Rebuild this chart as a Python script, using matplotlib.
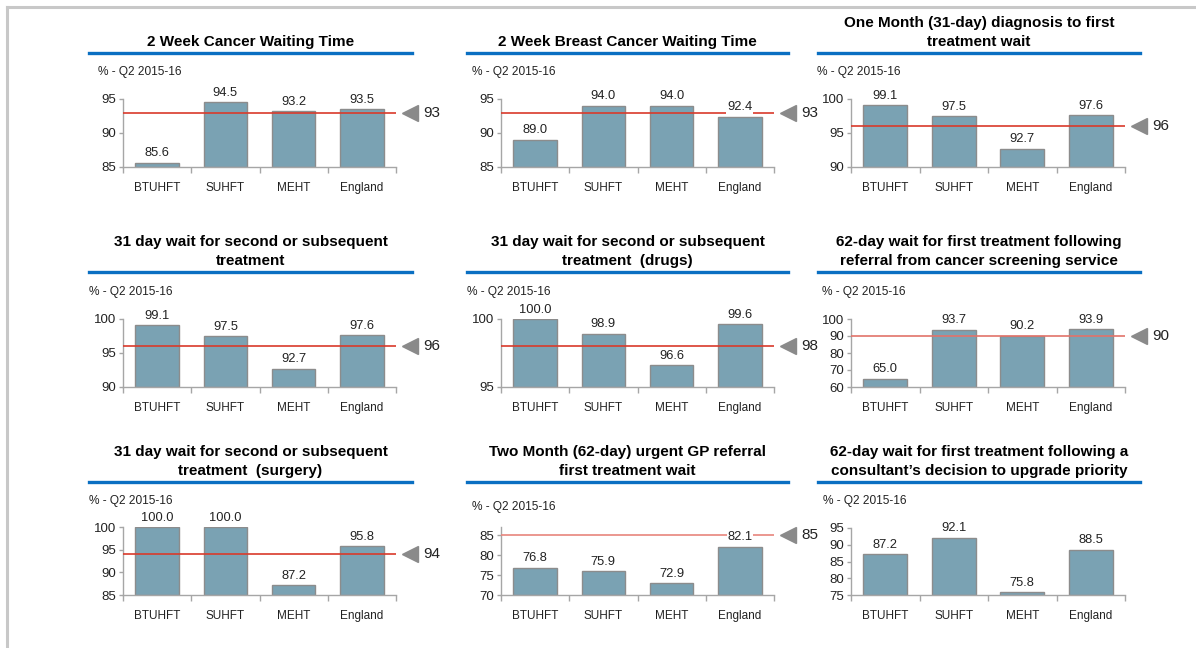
import numpy as np
import matplotlib
matplotlib.use('Agg')
import matplotlib.pyplot as plt
from matplotlib.lines import Line2D
from matplotlib.transforms import offset_copy

plt.rcParams['font.family'] = ['Liberation Sans', 'DejaVu Sans']

W, H = 1196, 648

categories = ['BTUHFT', 'SUHFT', 'MEHT', 'England']
subtitle = '% - Q2 2015-16'

titles = [
    '2 Week Cancer Waiting Time',
    '2 Week Breast Cancer Waiting Time',
    'One Month (31-day) diagnosis to first\ntreatment wait',
    '31 day wait for second or subsequent\ntreatment',
    '31 day wait for second or subsequent\ntreatment  (drugs)',
    '62-day wait for first treatment following\nreferral from cancer screening service',
    '31 day wait for second or subsequent\ntreatment  (surgery)',
    'Two Month (62-day) urgent GP referral\nfirst treatment wait',
    '62-day wait for first treatment following a\nconsultant\u2019s decision to upgrade priority',
]

cancer_2wk = [85.6, 94.5, 93.2, 93.5]
breast_2wk = [89.0, 94.0, 94.0, 92.4]
diag_31day = [99.1, 97.5, 92.7, 97.6]
subseq_31day = [99.1, 97.5, 92.7, 97.6]
drugs_31day = [100.0, 98.9, 96.6, 99.6]
screening_62day = [65.0, 93.7, 90.2, 93.9]
surgery_31day = [100.0, 100.0, 87.2, 95.8]
gp_62day = [76.8, 75.9, 72.9, 82.1]
upgrade_62day = [87.2, 92.1, 75.8, 88.5]

series = [cancer_2wk, breast_2wk, diag_31day, subseq_31day, drugs_31day,
          screening_62day, surgery_31day, gp_62day, upgrade_62day]
targets = [93, 93, 96, 96, 98, 90, 94, 85, None]
ylims = [(85, 95), (85, 95), (90, 100), (90, 100), (95, 100),
         (60, 100), (85, 100), (70, 87), (75, 95)]
ysteps = [5, 5, 5, 5, 5, 10, 5, 5, 5]

# pixel layout of the 3x3 grid
ax_left = [123, 501, 851]
ax_right = [396, 774, 1125]
ax_top = [[99, 99, 99], [319, 319, 319], [527, 527, 528]]
ax_bot = [167, 387, 595]
rule_x = [(89, 412), (467, 788), (818, 1140)]
rule_y = [53, 272, 482]
sub_x = [[98, 472, 817], [89, 467, 822], [89, 472, 823]]
sub_y = [[72, 72, 72], [292, 292, 292], [501, 507, 501]]
line_col = ['#d93a2b', '#d93a2b', '#d93a2b', '#d93a2b', '#d93a2b',
            '#e2736a', '#d93a2b', '#e8857d', '#d93a2b']

bar_col = '#7aa2b3'
edge_col = '#8c8c8c'
axis_col = '#a6a6a6'
text_col = '#222222'

fig = plt.figure(figsize=(W / 100, H / 100), dpi=100)
fig.patch.set_facecolor('white')

# light grey frame on top and left
fig.add_artist(Line2D([7 / W, 1], [1 - 7 / H, 1 - 7 / H], color='#c8c8c8', lw=2.2))
fig.add_artist(Line2D([7 / W, 7 / W], [1 - 7 / H, 0], color='#c8c8c8', lw=2.2))

x = np.arange(len(categories))

for i in range(9):
    r, c = divmod(i, 3)
    x0, x1 = ax_left[c], ax_right[c]
    y0, y1 = ax_top[r][c], ax_bot[r]
    ax = fig.add_axes([x0 / W, 1 - y1 / H, (x1 - x0) / W, (y1 - y0) / H])

    vals = series[i]
    lo, hi = ylims[i]
    ax.bar(x, [v - lo for v in vals], bottom=lo, width=0.64, color=bar_col,
           edgecolor=edge_col, linewidth=1.0, zorder=2)
    ax.set_xlim(-0.5, 3.5)
    ax.set_ylim(lo, hi)
    ax.set_yticks(np.arange(lo, hi + 0.1, ysteps[i]))
    ax.set_xticks(x)
    ax.set_xticklabels(categories)
    ax.set_xticks(np.arange(-0.5, 3.6, 1), minor=True)

    for s in ['top', 'right']:
        ax.spines[s].set_visible(False)
    for s in ['left', 'bottom']:
        ax.spines[s].set_color(axis_col)
        ax.spines[s].set_linewidth(1.0)
    ax.tick_params(axis='y', length=3, width=1, color=axis_col, pad=2,
                   labelsize=9.5, labelcolor=text_col)
    ax.tick_params(axis='x', which='major', length=0, pad=11,
                   labelsize=8.5, labelcolor=text_col)
    ax.tick_params(axis='x', which='minor', length=4, width=1, color=axis_col)

    t = targets[i]
    if t is not None:
        ax.axhline(t, color=line_col[i], lw=1.2, zorder=3)
        tr = offset_copy(ax.get_yaxis_transform(), fig=fig, x=14, y=0, units='dots')
        ax.plot([1], [t], marker='<', ms=11, color='#8a8a8a', transform=tr,
                clip_on=False, zorder=4)
        tr2 = offset_copy(ax.get_yaxis_transform(), fig=fig, x=27, y=0, units='dots')
        ax.text(1, t, str(t), transform=tr2, ha='left', va='center',
                fontsize=11, color=text_col)

    for xi, v in zip(x, vals):
        ax.annotate(f'{v:.1f}', (xi, v), xytext=(0, 2.5), textcoords='offset points',
                    ha='center', va='bottom', fontsize=9.3, color=text_col,
                    bbox=dict(facecolor='white', edgecolor='none', pad=0.6),
                    zorder=5, annotation_clip=False)

    # blue rule and title above it
    bx0, bx1 = rule_x[c]
    by = rule_y[r]
    fig.add_artist(Line2D([bx0 / W, bx1 / W], [1 - by / H, 1 - by / H],
                          color='#0a6fc2', lw=2.4))
    fig.text((bx0 + bx1) / 2 / W, 1 - (by - 4) / H, titles[i], ha='center',
             va='bottom', fontsize=11, fontweight='bold', color='black',
             linespacing=1.45)
    fig.text(sub_x[r][c] / W, 1 - sub_y[r][c] / H, subtitle, ha='left',
             va='center', fontsize=8.6, color=text_col)

fig.savefig('out.png', dpi=100, facecolor='white')
